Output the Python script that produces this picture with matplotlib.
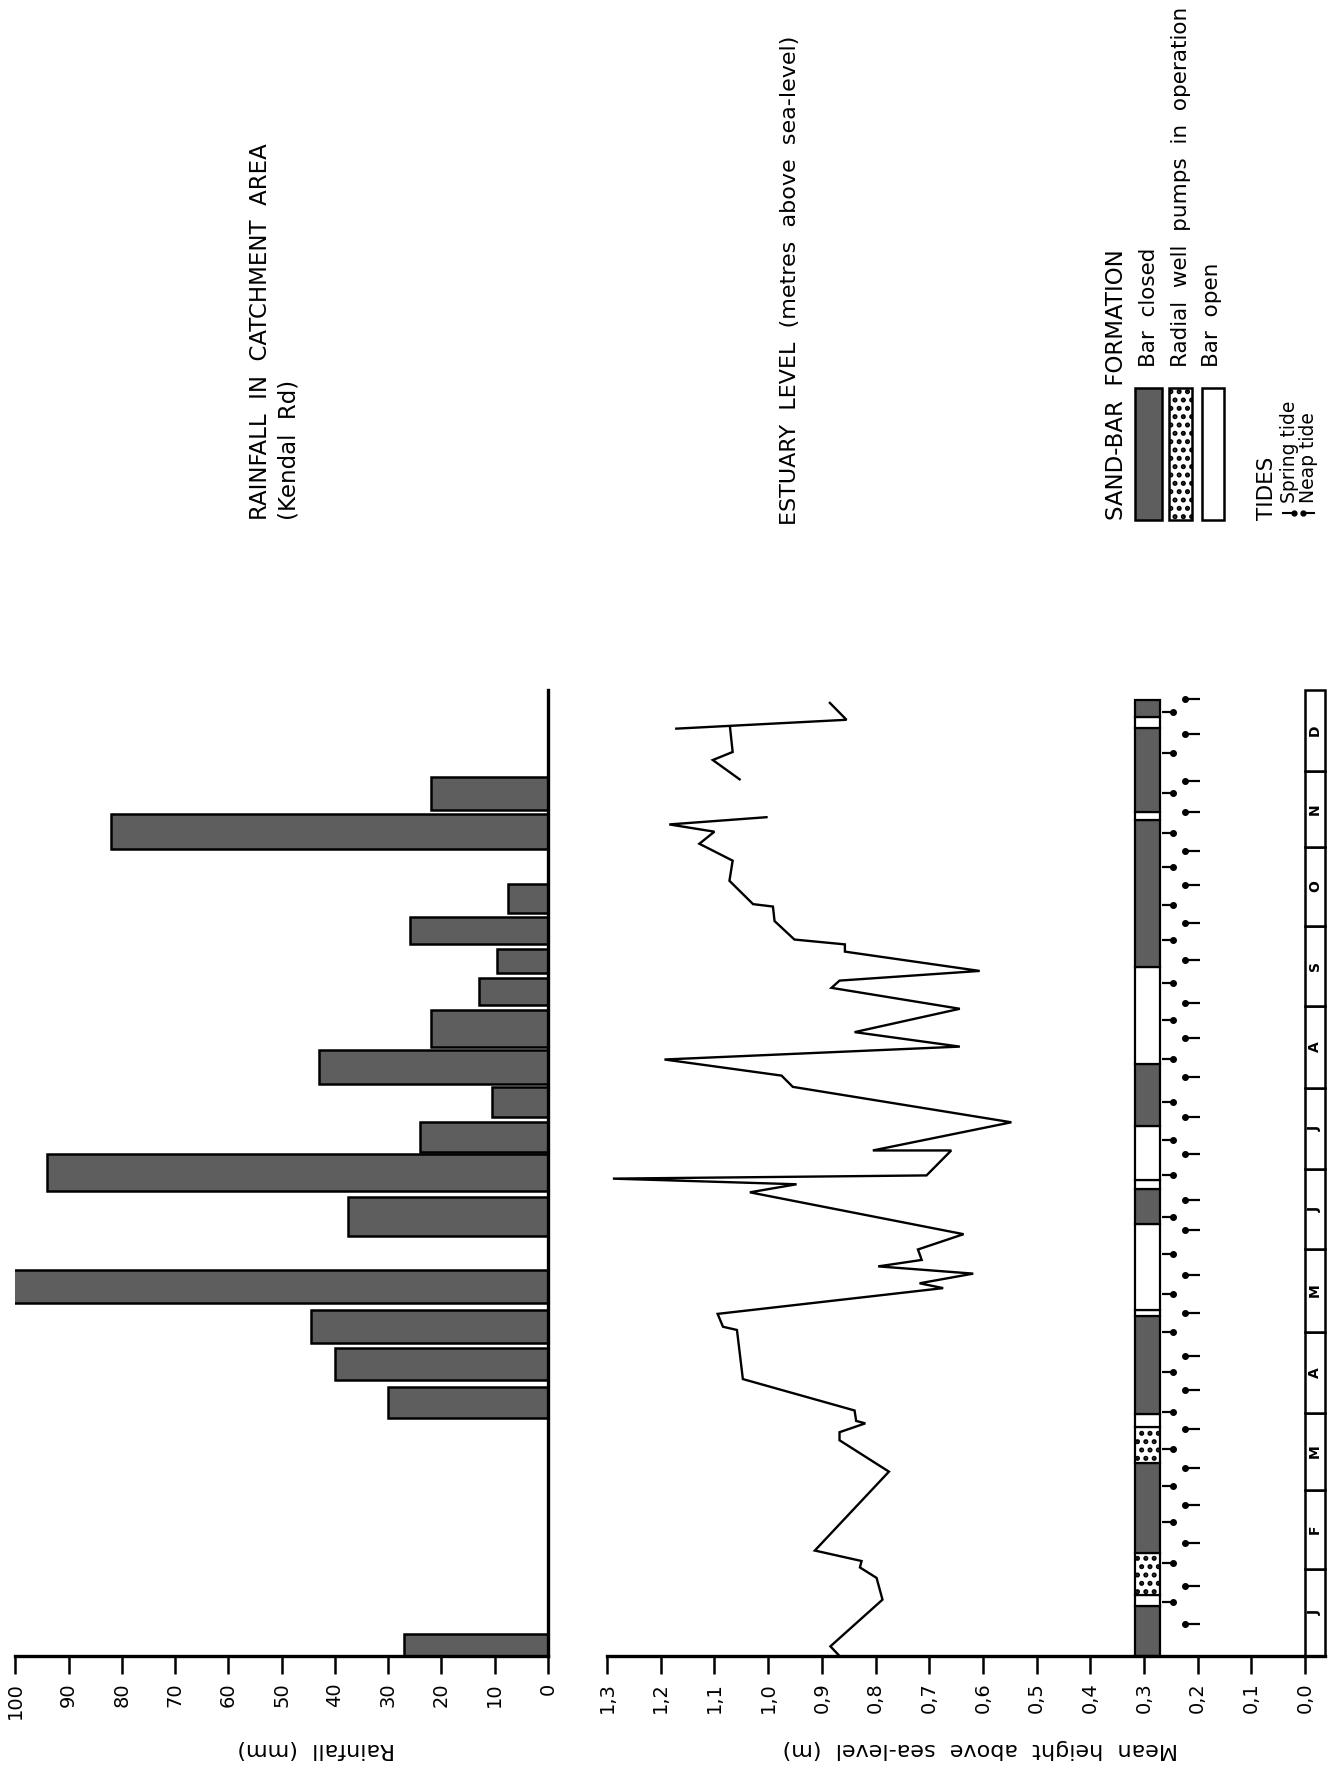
import numpy as np
import matplotlib
matplotlib.use("Agg")
import matplotlib.pyplot as plt
from matplotlib.patches import Rectangle
from matplotlib.lines import Line2D

plt.rcParams["font.family"] = ["DejaVu Sans"]
plt.rcParams["hatch.linewidth"] = 2.4

W, H = 1330, 1767          # canvas size in pixels
nan = np.nan

# ---------------------------------------------------------------- data
# time axis is measured in months from 1 January (0) to 31 December (12)
month_labels = ["J", "F", "M", "A", "M", "J", "J", "A", "S", "O", "N", "D"]
month_edges = [0.0, 1.08, 2.06, 3.02, 4.03, 5.05, 6.05, 7.06, 8.08, 9.07, 10.05, 11.0, 12.0]

# rainfall in the catchment (Kendal Rd), one bar per recording period
rain_start = [0.00, 2.96, 3.43, 3.89, 4.38, 5.22, 5.78, 6.26, 6.69, 7.11, 7.57, 8.09, 8.48, 8.84, 9.23, 10.03, 10.51]
rain_end = [0.27, 3.34, 3.83, 4.30, 4.80, 5.70, 6.24, 6.63, 7.07, 7.53, 8.02, 8.42, 8.78, 9.18, 9.59, 10.46, 10.92]
rain_mm = [27, 30, 40, 44.5, 101, 37.5, 94, 24, 10.5, 43, 22, 13, 9.5, 26, 7.5, 82, 22]

# estuary level (m above sea level); nan separates unconnected stretches
level_time = [0.00, 0.12, 0.70, 0.97, 1.10, 1.18, 1.31, 2.29, 2.68, 2.78, 2.89, 2.92, 3.05,
              3.44, 4.05, 4.09, 4.25, 4.57, 4.63, 4.75, 4.84, 4.92, 5.05, 5.24, 5.76, 5.86,
              5.93, 5.97, 6.28, 6.28, 6.63, 7.07, 7.21, 7.41, 7.57, 7.75, 8.04, 8.30, 8.39,
              8.51, 8.75, 8.84, 8.90, 9.13, 9.31, 9.34, 9.63, 9.88, 10.09, 10.24, 10.33, 10.42,
              nan,
              10.89, 11.13, 11.23, 11.54,
              nan,
              11.52, 11.63, 11.84]
level_m = [0.867, 0.884, 0.787, 0.798, 0.829, 0.826, 0.913, 0.775, 0.867, 0.867, 0.819, 0.836, 0.839,
           1.047, 1.058, 1.084, 1.094, 0.674, 0.718, 0.618, 0.795, 0.714, 0.721, 0.636, 1.034, 0.947,
           1.289, 0.705, 0.659, 0.805, 0.547, 0.954, 0.975, 1.193, 0.643, 0.839, 0.643, 0.882, 0.867,
           0.606, 0.857, 0.857, 0.951, 0.988, 0.991, 1.028, 1.072, 1.066, 1.128, 1.100, 1.184, 1.003,
           nan,
           1.053, 1.103, 1.066, 1.071,
           nan,
           1.171, 0.854, 0.885]

# sand-bar state through the year
bar_start = [0.00, 0.62, 0.76, 1.28, 2.40, 2.85, 3.01, 4.22, 4.30, 5.37, 5.80, 5.91, 6.59, 7.36, 8.56, 10.39, 10.49, 11.53, 11.67]
bar_end = [0.62, 0.76, 1.28, 2.40, 2.85, 3.01, 4.22, 4.30, 5.37, 5.80, 5.91, 6.59, 7.36, 8.56, 10.39, 10.49, 11.53, 11.67, 11.87]
bar_state = ["closed", "open", "pumps", "closed", "pumps", "open", "closed", "open", "open", "closed",
             "open", "open", "closed", "open", "closed", "open", "closed", "open", "closed"]

# tides
spring_tide = [0.67, 1.16, 1.67, 2.11, 2.57, 3.03, 3.53, 4.02, 4.50, 5.00, 5.45, 5.97, 6.41, 6.88,
               7.41, 7.90, 8.36, 8.90, 9.33, 9.80, 10.22, 10.72, 11.22, 11.73]
neap_tide = [0.40, 0.87, 1.40, 1.87, 2.34, 2.82, 3.31, 3.73, 4.26, 4.73, 5.29, 5.67, 6.23, 6.70,
             7.19, 7.68, 8.11, 8.64, 9.11, 9.58, 10.00, 10.49, 10.87, 11.45, 11.89]

rain_ticks = list(range(0, 101, 10))
level_ticks = [round(0.1 * i, 1) for i in range(14)]

# ---------------------------------------------------------------- styling
GREY = "#5e5e5e"
styles = {
    "closed": dict(facecolor=GREY, hatch=None),
    "pumps": dict(facecolor="white", hatch=".."),
    "open": dict(facecolor="white", hatch=None),
}


def fx(px):
    return px / W


def fy(py):
    return (H - py) / H


fig = plt.figure(figsize=(W / 100, H / 100), dpi=100)
fig.patch.set_facecolor("white")

Y0, Y1 = 1656, 690   # pixel rows of 1 Jan and 31 Dec

# ---------------------------------------------------------------- rainfall panel
ax_r = fig.add_axes([fx(15.4), fy(Y0), fx(548) - fx(15.4), fy(Y1) - fy(Y0)])
ax_r.set_xlim(100, 0)
ax_r.set_ylim(0, 12)
centres = [(a + b) / 2 for a, b in zip(rain_start, rain_end)]
heights = [b - a for a, b in zip(rain_start, rain_end)]
ax_r.barh(centres, rain_mm, height=heights, left=0, color=GREY,
          edgecolor="black", linewidth=1.8, zorder=2)
for side in ("top", "left"):
    ax_r.spines[side].set_visible(False)
for side in ("bottom", "right"):
    ax_r.spines[side].set_linewidth(2.4)
ax_r.set_yticks([])
ax_r.set_xticks(rain_ticks)
ax_r.set_xticklabels([str(v) for v in rain_ticks])
ax_r.tick_params(axis="x", direction="out", length=13, width=1.8, pad=6,
                 labelsize=14, labelrotation=90)
ax_r.patch.set_alpha(0)

# ---------------------------------------------------------------- estuary panel
ax_e = fig.add_axes([fx(607), fy(Y0), fx(1325) - fx(607), fy(Y1) - fy(Y0)])
ax_e.set_xlim(1.3, -0.037)
ax_e.set_ylim(0, 12)
ax_e.plot(level_m, level_time, color="black", linewidth=1.7, solid_joinstyle="miter", zorder=3)
for side in ("top", "left", "right"):
    ax_e.spines[side].set_visible(False)
ax_e.spines["bottom"].set_linewidth(2.4)
ax_e.set_yticks([])
ax_e.set_xticks(level_ticks)
ax_e.set_xticklabels([f"{v:.1f}".replace(".", ",") for v in level_ticks])
ax_e.tick_params(axis="x", direction="out", length=13, width=1.8, pad=6,
                 labelsize=14, labelrotation=90)
ax_e.patch.set_alpha(0)

# sand-bar strip
STRIP_LO, STRIP_HI = 0.270, 0.317
for s, e, st in zip(bar_start, bar_end, bar_state):
    ax_e.add_patch(Rectangle((STRIP_LO, s), STRIP_HI - STRIP_LO, e - s,
                             edgecolor="black", linewidth=1.6, zorder=2, **styles[st]))

# tide markers
ax_e.hlines(spring_tide, 0.244, 0.266, color="black", linewidth=1.6)
ax_e.plot([0.246] * len(spring_tide), spring_tide, "o", color="black", markersize=4)
ax_e.hlines(neap_tide, 0.196, 0.224, color="black", linewidth=1.6)
ax_e.plot([0.2235] * len(neap_tide), neap_tide, "o", color="black", markersize=4)

# month strip
for i, lab in enumerate(month_labels):
    lo, hi = month_edges[i], month_edges[i + 1]
    ax_e.add_patch(Rectangle((-0.037, lo), 0.037, hi - lo, facecolor="white",
                             edgecolor="black", linewidth=1.8, zorder=2, clip_on=False))
    ax_e.text(-0.0185, (lo + hi) / 2, lab, rotation=90, ha="center", va="center",
              fontsize=10, fontweight="bold", zorder=3)

# ---------------------------------------------------------------- axis titles
fig.text(fx(316), fy(1749), "Rainfall  (mm)", rotation=180, ha="center", va="center", fontsize=16)
fig.text(fx(980), fy(1749), "Mean  height  above  sea-level  (m)", rotation=180,
         ha="center", va="center", fontsize=16)

# ---------------------------------------------------------------- headings and key
def vtext(xb, ystart, s, size):
    fig.text(fx(xb), fy(ystart), s, rotation=90, rotation_mode="anchor",
             ha="left", va="baseline", fontsize=size)


vtext(267, 520, "RAINFALL  IN  CATCHMENT  AREA", 16.5)
vtext(295, 520, "(Kendal  Rd)", 16.5)
vtext(796, 525, "ESTUARY  LEVEL  (metres  above  sea-level)", 16)
vtext(1123, 520, "SAND-BAR  FORMATION", 16.5)
vtext(1155, 367, "Bar  closed", 15.5)
vtext(1187, 367, "Radial  well  pumps  in  operation", 15.5)
vtext(1218, 367, "Bar  open", 15.5)
vtext(1273, 520, "TIDES", 15.5)
vtext(1295, 503, "Spring tide", 13.5)
vtext(1314, 503, "Neap tide", 13.5)

for x0, x1, st in [(1135, 1162, "closed"), (1169, 1192, "pumps"), (1202, 1224, "open")]:
    fig.add_artist(Rectangle((fx(x0), fy(520)), fx(x1) - fx(x0), fy(388) - fy(520),
                             transform=fig.transFigure, edgecolor="black", linewidth=1.8,
                             **styles[st]))

# key symbols for the tides
fig.add_artist(Line2D([fx(1283), fx(1295)], [fy(513), fy(513)], transform=fig.transFigure,
                      color="black", linewidth=1.5))
fig.add_artist(Line2D([fx(1294)], [fy(513)], transform=fig.transFigure, marker="o",
                      markersize=3.5, color="black"))
fig.add_artist(Line2D([fx(1302), fx(1314)], [fy(513), fy(513)], transform=fig.transFigure,
                      color="black", linewidth=1.5))
fig.add_artist(Line2D([fx(1303)], [fy(513)], transform=fig.transFigure, marker="o",
                      markersize=3.5, color="black"))

fig.savefig("out.png", dpi=100, facecolor="white")
